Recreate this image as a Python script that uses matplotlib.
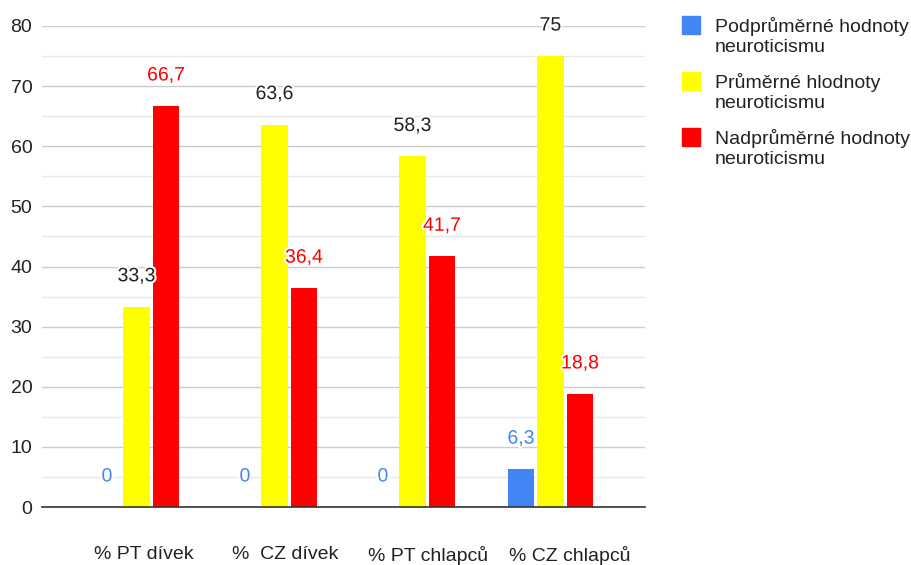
import numpy as np
import matplotlib.pyplot as plt
import matplotlib.patheffects as pe
from matplotlib.patches import Rectangle
from matplotlib.ticker import MultipleLocator

plt.rcParams['font.family'] = ['Liberation Sans', 'DejaVu Sans']

categories = ['% PT dívek', '%  CZ dívek', '% PT chlapců', '% CZ chlapců']
series_names = ['Podprůměrné hodnoty\nneuroticismu',
                'Průměrné hlodnoty\nneuroticismu',
                'Nadprůměrné hodnoty\nneuroticismu']
podprumerne = [0, 0, 0, 6.3]
prumerne = [33.3, 63.6, 58.3, 75]
nadprumerne = [66.7, 36.4, 41.7, 18.8]
value_labels = [['0', '0', '0', '6,3'],
                ['33,3', '63,6', '58,3', '75'],
                ['66,7', '36,4', '41,7', '18,8']]

colors = ['#4285F4', '#FFFF00', '#FF0000']
label_colors = ['#4285F4', '#222222', '#FF0000']
fs = 14

fig = plt.figure(figsize=(9.11, 5.65), dpi=100)
ax = fig.add_axes([42 / 911, 58 / 565, 603 / 911, 481 / 565])

x = np.arange(len(categories))
step = 0.214
width = 0.19
series = [podprumerne, prumerne, nadprumerne]
for i, vals in enumerate(series):
    pos = x + (i - 1) * step
    ax.bar(pos, vals, width=width, color=colors[i], zorder=3)
    for p, v, txt in zip(pos, vals, value_labels[i]):
        t = ax.annotate(txt, (p, v), xytext=(0, 30), textcoords='offset pixels',
                        ha='center', va='center', fontsize=fs,
                        color=label_colors[i], zorder=4)
        t.set_path_effects([pe.withStroke(linewidth=3, foreground='white')])

ax.set_xlim(-0.685, 3.685)
ax.set_ylim(0, 80)
ax.yaxis.set_major_locator(MultipleLocator(10))
ax.yaxis.set_minor_locator(MultipleLocator(5))
ax.grid(axis='y', which='major', color='#cccccc', linewidth=1, zorder=0)
ax.grid(axis='y', which='minor', color='#e8e8e8', linewidth=1, zorder=0)
ax.set_axisbelow(True)

for s in ['top', 'right', 'left']:
    ax.spines[s].set_visible(False)
ax.spines['bottom'].set_color('#333333')
ax.spines['bottom'].set_linewidth(1.2)
ax.spines['bottom'].set_zorder(5)

# category labels sit a little right of the group centres
ax.set_xticks(0.05 + 1.031 * x)
ax.set_xticklabels(categories)
ax.tick_params(axis='x', length=0, pad=28, labelsize=fs, labelcolor='#222222')
ax.tick_params(axis='y', which='both', length=0, pad=7, labelsize=fs,
               labelcolor='#222222')

# legend: square aligned with first line of each label
for i, name in enumerate(series_names):
    top = 16 + 56 * i
    fig.add_artist(Rectangle((682 / 911, 1 - (top + 18) / 565), 18 / 911, 18 / 565,
                             transform=fig.transFigure, color=colors[i]))
    fig.text(715 / 911, 1 - (top + 1) / 565, name, ha='left', va='top',
             fontsize=fs, color='#222222', linespacing=1.2)

fig.savefig('out.png', dpi=100)
